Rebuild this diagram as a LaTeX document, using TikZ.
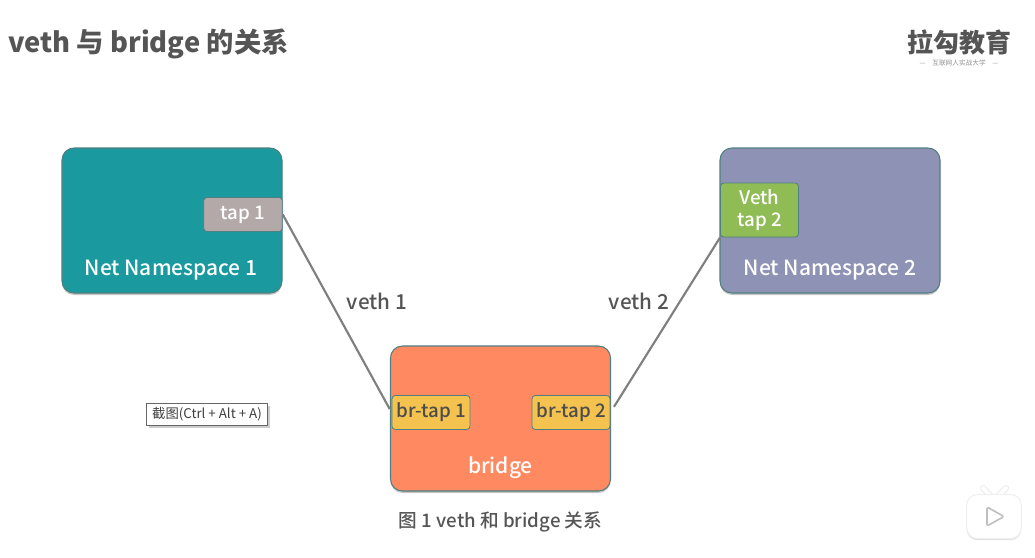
\documentclass[tikz,border=0pt]{standalone}
\usepackage{fontspec}
\setmainfont{Noto Sans CJK SC}[UprightFont=* Medium]
\newfontfamily\tipfont{Noto Sans CJK SC}
\usetikzlibrary{shadows}
\definecolor{tealbox}{HTML}{1A9A9E}
\definecolor{slatebox}{HTML}{8E92B5}
\definecolor{orangebox}{HTML}{FF8A62}
\definecolor{yellowtap}{HTML}{F4C24F}
\definecolor{greentap}{HTML}{8FBC55}
\definecolor{greytap}{HTML}{B3A9A8}
\definecolor{boxedge}{HTML}{4F7F80}
\definecolor{titlegrey}{HTML}{555555}
\definecolor{linegrey}{HTML}{7F7F7F}
\tikzset{
    areabox/.style={
        draw=boxedge,
        line width=0.8pt,
        rounded corners=9pt,
        minimum width=165pt,
        minimum height=108.75pt,
        inner sep=0pt,
        drop shadow={shadow xshift=0pt,shadow yshift=-1.5pt,opacity=0.45}
    },
    tapbox/.style={
        draw=boxedge,
        line width=0.6pt,
        rounded corners=2.5pt,
        minimum width=58.5pt,
        minimum height=25.5pt,
        inner sep=0pt,
        font=\fontsize{14}{16.5}\selectfont
    },
    arealabel/.style={
        text=white,
        inner sep=0pt,
        font=\fontsize{15.7}{18}\selectfont
    },
    linklabel/.style={
        text=titlegrey,
        inner sep=0pt,
        font=\fontsize{15.5}{17}\selectfont
    },
    linkline/.style={
        draw=linegrey,
        line width=1.6pt
    }
}
\begin{document}
\begin{tikzpicture}[x=0.75pt,y=-0.75pt]
    \useasboundingbox (0,0) rectangle (1035,557);
    \fill[white] (0,0) rectangle (1035,557);
    % heading and logo
    \node[anchor=west,inner sep=0pt,text=titlegrey,font=\fontsize{20.5}{24}\selectfont\bfseries] (title) at (8,44) {veth 与 bridge 的关系};
    \node[inner sep=0pt,text=titlegrey,font=\fontsize{19.5}{22}\selectfont\bfseries] (logo) at (959,42) {拉勾教育};
    \node[inner sep=0pt,text=black!35,font=\fontsize{5}{6}\selectfont] (slogan) at (959,63) {—\quad 互联网人实战大学\quad —};
    % the three areas
    \node[areabox,fill=tealbox] (net1) at (172,220.5) {};
    \node[areabox,fill=slatebox] (net2) at (830,220.5) {};
    \node[areabox,fill=orangebox] (bridge) at (500.5,418.5) {};
    \node[arealabel] (net1label) at (171,270) {Net Namespace 1};
    \node[arealabel] (net2label) at (830,270) {Net Namespace 2};
    \node[arealabel] (bridgelabel) at (500.5,468) {bridge};
    % taps
    \node[tapbox,fill=greytap,text=white,minimum width=59pt] (tap1) at (243,214.5) {tap 1};
    \node[tapbox,fill=greentap,text=white,minimum height=40.5pt,align=center] (tap2) at (759.5,210) {Veth\\tap 2};
    \node[tapbox,fill=yellowtap,text=black!70] (brtap1) at (431,412.5) {br-tap 1};
    \node[tapbox,fill=yellowtap,text=black!70] (brtap2) at (571,412.5) {br-tap 2};
    % veth pairs
    \draw[linkline,shorten >=3pt] (tap1.east) -- (brtap1.west);
    \draw[linkline,shorten >=5pt] (tap2.south west) -- (brtap2.east);
    \node[linklabel] (veth1) at (377,301) {veth 1};
    \node[linklabel] (veth2) at (639,301) {veth 2};
    \node[inner sep=0pt,text=titlegrey,font=\fontsize{14}{16}\selectfont] (caption) at (500.5,522) {图 1 veth 和 bridge 关系};
    % screenshot tooltip
    \node[draw=black!60,fill=white,line width=0.7pt,minimum width=90.75pt,minimum height=16.5pt,inner sep=0pt,text=black!75,font=\fontsize{10}{12}\tipfont,drop shadow={shadow xshift=2pt,shadow yshift=-2pt,opacity=0.4}] (tooltip) at (207,414) {截图(Ctrl + Alt + A)};
    % player badge
    \coordinate (antennaL) at (983,488);
    \coordinate (antennaR) at (1006,488);
    \coordinate (antennaB) at (994.5,500);
    \draw[black!8,line width=4.5pt,line cap=round] (antennaL) -- (antennaB) -- (antennaR);
    \draw[white,line width=3pt,line cap=round] (antennaL) -- (antennaB) -- (antennaR);
    \node[fill=white,draw=black!6,line width=0.8pt,rounded corners=8pt,minimum width=41pt,minimum height=33pt,inner sep=0pt,drop shadow={shadow xshift=0pt,shadow yshift=-1.2pt,opacity=0.25}] (player) at (994,516.5) {};
    \draw[black!25,line width=1.2pt,line join=round,rounded corners=1.5pt] (987,507) -- (1004,516.5) -- (987,526) -- cycle;
\end{tikzpicture}
\end{document}
